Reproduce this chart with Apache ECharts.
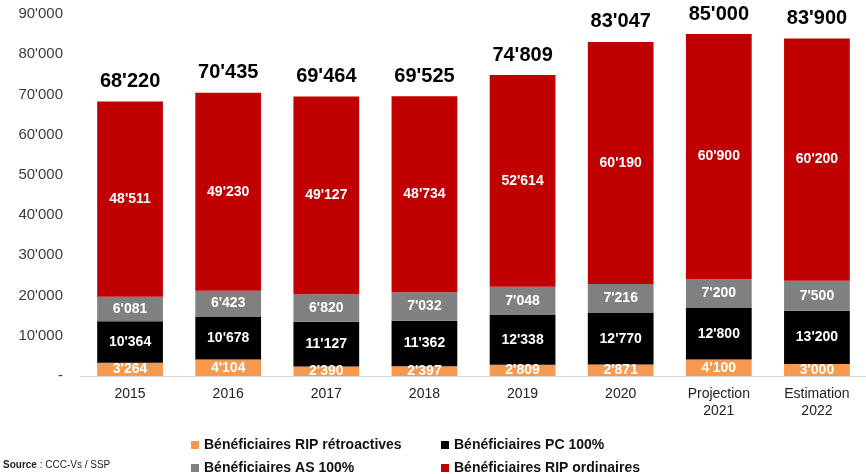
<!DOCTYPE html>
<html>
<head>
<meta charset="utf-8">
<script src="https://cdn.jsdelivr.net/npm/echarts@6/dist/echarts.min.js"></script>
<style>
  html, body { margin: 0; padding: 0; background: #fff; }
  #chartDom { width: 866px; height: 474px; }
</style>
</head>
<body>
<div id="chartDom"></div>
<script>
const categories = ["2015", "2016", "2017", "2018", "2019", "2020", "Projection\n2021", "Estimation\n2022"];
const ripRetro = [3264, 4104, 2390, 2397, 2809, 2871, 4100, 3000];
const pc100 = [10364, 10678, 11127, 11362, 12338, 12770, 12800, 13200];
const as100 = [6081, 6423, 6820, 7032, 7048, 7216, 7200, 7500];
const ripOrd = [48511, 49230, 49127, 48734, 52614, 60190, 60900, 60200];
const totals = [68220, 70435, 69464, 69525, 74809, 83047, 85000, 83900];

const FONT = "Liberation Sans, Arial, sans-serif";

function fmt(v) {
  return String(v).replace(/\B(?=(\d{3})+(?!\d))/g, "'");
}

let myChart = echarts.init(document.getElementById("chartDom"));

function barSeries(name, data, color) {
  return {
    name: name,
    type: "bar",
    stack: "total",
    barWidth: "67%",
    data: data,
    itemStyle: { color: color },
    label: {
      show: true,
      position: "inside",
      color: "#fff",
      fontFamily: FONT,
      fontWeight: "bold",
      fontSize: 14,
      formatter: (p) => fmt(p.value),
    },
  };
}

const legendBase = {
  icon: "rect",
  itemWidth: 8,
  itemHeight: 8,
  itemGap: 6,
  textStyle: { fontFamily: FONT, fontWeight: "bold", fontSize: 14, color: "#111" },
};

const series = [
  barSeries("Bénéficiaires RIP rétroactives", ripRetro, "#F79A4F"),
  barSeries("Bénéficiaires PC 100%", pc100, "#000000"),
  barSeries("Bénéficiaires AS 100%", as100, "#808080"),
  barSeries("Bénéficiaires RIP ordinaires", ripOrd, "#C00000"),
];
// totals on top of the red bars
series.push({
  name: "total",
  type: "bar",
  stack: "total",
  data: totals.map(() => 0),
  itemStyle: { color: "transparent" },
  label: {
    show: true,
    position: "top",
    distance: 10,
    color: "#000",
    fontFamily: FONT,
    fontWeight: "bold",
    fontSize: 20,
    formatter: (p) => fmt(totals[p.dataIndex]),
  },
});

const option = {
  animation: false,
  grid: { left: 81, right: 0, top: 14, bottom: 98 },
  legend: [
    Object.assign({ left: 186, top: 433, data: ["Bénéficiaires RIP rétroactives"] }, legendBase),
    Object.assign({ left: 436, top: 433, data: ["Bénéficiaires PC 100%"] }, legendBase),
    Object.assign({ left: 186, top: 456, data: ["Bénéficiaires AS 100%"] }, legendBase),
    Object.assign({ left: 436, top: 456, data: ["Bénéficiaires RIP ordinaires"] }, legendBase),
  ],
  xAxis: {
    type: "category",
    data: categories,
    axisLine: { lineStyle: { color: "#d9d9d9" } },
    axisTick: { show: false },
    axisLabel: { fontFamily: FONT, fontSize: 14, color: "#222", margin: 10, lineHeight: 17 },
  },
  yAxis: {
    type: "value",
    min: 0,
    max: 90000,
    interval: 10000,
    splitLine: { show: false },
    axisLine: { show: false },
    axisLabel: {
      fontFamily: FONT,
      fontSize: 15,
      color: "#3a3a3a",
      margin: 18,
      formatter: (v) => (v === 0 ? "-" : fmt(v)),
    },
  },
  graphic: [
    {
      type: "text",
      left: 3,
      top: 460,
      style: {
        text: "{b|Source} : CCC-Vs / SSP",
        font: "10px " + FONT,
        fill: "#222",
        rich: { b: { fontWeight: "bold", fontSize: 10, fontFamily: FONT } },
      },
    },
  ],
  series: series,
};

option && myChart.setOption(option);
</script>
</body>
</html>
